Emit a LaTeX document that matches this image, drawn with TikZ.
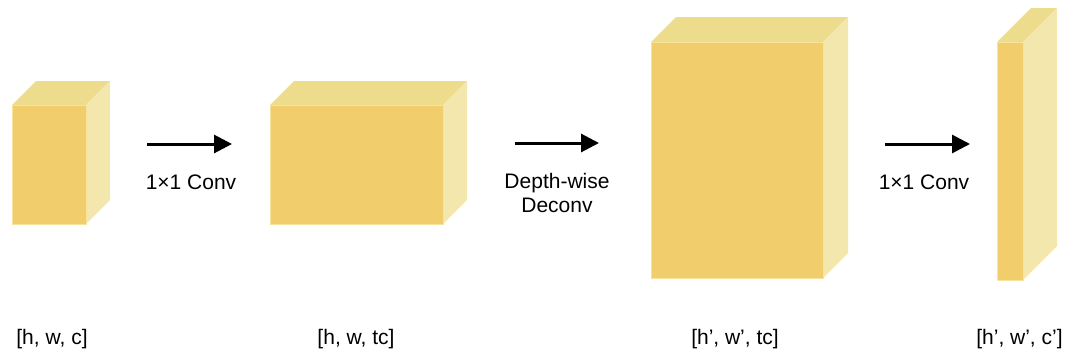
\documentclass[tikz,border=0pt]{standalone}
\usepackage{fontspec}
\setmainfont{Liberation Sans}
\usetikzlibrary{arrows.meta}
\definecolor{frontface}{HTML}{F2CD6B}
\definecolor{topface}{HTML}{EDDC8B}
\definecolor{sideface}{HTML}{F3E7AD}
\definecolor{edgeline}{HTML}{F6E39C}
% #1,#2: front top-left corner; #3,#4: front bottom-right corner; #5: depth offset
\newcommand\tensorblock[5]{%
  \fill[topface] (#1,#2) -- ++(#5,-#5) -- (#3+#5,#2-#5) -- (#3,#2) -- cycle;
  \fill[sideface] (#3,#2) -- (#3+#5,#2-#5) -- (#3+#5,#4-#5) -- (#3,#4) -- cycle;
  \fill[frontface] (#1,#2) rectangle (#3,#4);
  \draw[edgeline, line width=0.6pt] (#1,#2) rectangle (#3,#4);
}
\tikzset{
  flow/.style={line width=3pt, -{Triangle[length=18pt,width=18pt]}},
  lbl/.style={font=\fontsize{21}{23.5}\selectfont, align=center, inner sep=0pt},
}
\begin{document}
\begin{tikzpicture}[x=1pt, y=-1pt]
  \useasboundingbox (0,0) rectangle (1067,356);

  % feature tensors
  \tensorblock{12}{105}{86}{224}{24}
  \tensorblock{270}{105}{443}{224}{24}
  \tensorblock{651}{42}{823}{278}{25}
  \tensorblock{997}{42}{1023}{280}{34}

  % arrow end points
  \coordinate (a1s) at (147,144);
  \coordinate (a1e) at (232,144);
  \coordinate (a2s) at (515,143);
  \coordinate (a2e) at (599,143);
  \coordinate (a3s) at (885,144);
  \coordinate (a3e) at (970,144);

  \draw[flow] (a1s) -- (a1e);
  \draw[flow] (a2s) -- (a2e);
  \draw[flow] (a3s) -- (a3e);

  % operation labels
  \node[lbl] (op1) at (191,182) {1×1 Conv};
  \node[lbl] (op2) at (557,193) {Depth-wise\\Deconv};
  \node[lbl] (op3) at (924,182) {1×1 Conv};

  % shape labels
  \node[lbl] (s1) at (52,339) {[h, w, c]};
  \node[lbl] (s2) at (356,339) {[h, w, tc]};
  \node[lbl] (s3) at (735,339) {[h’, w’, tc]};
  \node[lbl] (s4) at (1019.5,339) {[h’, w’, c’]};
\end{tikzpicture}
\end{document}
